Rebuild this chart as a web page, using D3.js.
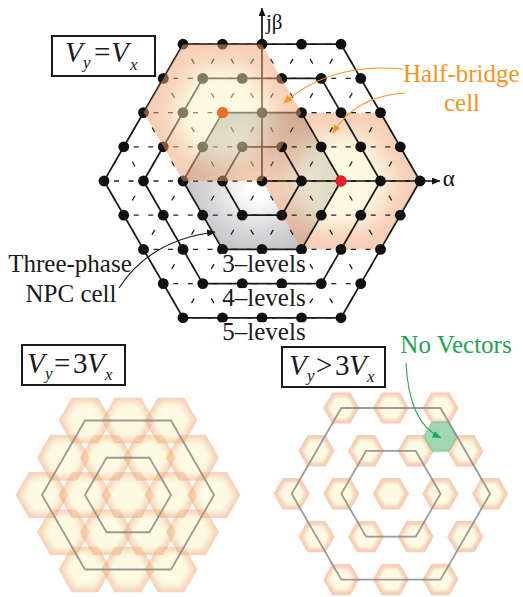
<!DOCTYPE html>
<html>
<head>
<meta charset="utf-8">
<script src="https://cdn.jsdelivr.net/npm/d3@7/dist/d3.min.js"></script>
<style>
  html, body { margin: 0; padding: 0; background: #fff; }
  svg { display: block; }
  text { font-family: "Liberation Serif", "Times New Roman", serif; }
</style>
</head>
<body>
<svg id="fig" width="523" height="597"></svg>
<script>
// ---- data -------------------------------------------------------------
// hexagonal rings of the space-vector diagram (lattice units)
const levelRings = [1, 2, 3, 4];
const levelLabels = ["3–levels", "4–levels", "5–levels"];
const levelLabelRings = [2, 3, 4];
const outerRing = 4;
// cells, axial lattice coordinates [i, j]
const npcCell = [0, 0];
const halfBridgeCells = [[-2, 2], [2, 0]];
const cellRing = 2;
const markedPoints = [[-2, 2], [2, 0]];
const markedColors = ["#f26b2a", "#e8202a"];
// lower diagrams
const subRings = [1, 2];
const subCellRing = 2;
const noVectorCells = [[1 / 3, 4 / 3]];
// texts
const halfBridgeText = ["Half-bridge", "cell"];
const npcText = ["Three-phase", "NPC cell"];
const noVectorText = "No Vectors";
const axisLabels = ["jβ", "α"];

// ---- helpers ------------------------------------------------------------
const svg = d3.select("#fig");
const defs = svg.append("defs");
const EDGE = "#ee9e6e", CORE = "#fcf5c6";
const dirs = [[1, 0], [0, 1], [-1, 1], [-1, 0], [0, -1], [1, -1]];
const hexDist = (i, j) => Math.max(Math.abs(i), Math.abs(j), Math.abs(i + j));

function latticePoints(n) {
  const pts = [];
  for (let j = -n; j <= n; j++)
    for (let i = -n; i <= n; i++)
      if (hexDist(i, j) <= n) pts.push([i, j]);
  return pts;
}
const px = (sx, sy) => ([i, j]) => [sx(i + j / 2), sy(j)];
function hexPts(sx, sy, ci, cj, r) {
  return dirs.map(([di, dj]) => px(sx, sy)([ci + di * r, cj + dj * r]));
}
const ptsAttr = pts => pts.map(p => p.join(",")).join(" ");

function blurFilter(id, sd) {
  defs.append("filter").attr("id", id)
    .attr("x", "-60%").attr("y", "-60%").attr("width", "220%").attr("height", "220%")
    .append("feGaussianBlur").attr("stdDeviation", sd);
}
blurFilter("blurTop", 11);
blurFilter("blurLeft", 3);
blurFilter("blurRight", 1.8);

let clipN = 0;
function softCell(parent, sx, sy, c, r, inner, blurId, edge, core, opacity) {
  const id = "clip" + (clipN++);
  const outer = hexPts(sx, sy, c[0], c[1], r);
  defs.append("clipPath").attr("id", id)
    .append("polygon").attr("points", ptsAttr(outer));
  const g = parent.append("g").attr("opacity", opacity).attr("clip-path", `url(#${id})`);
  g.append("polygon").attr("points", ptsAttr(outer)).attr("fill", edge);
  g.append("polygon").attr("points", ptsAttr(hexPts(sx, sy, c[0], c[1], r * inner)))
    .attr("fill", core).attr("filter", `url(#${blurId})`);
  return g;
}

function marker(id, color) {
  defs.append("marker").attr("id", id)
    .attr("viewBox", "0 0 10 8").attr("refX", 9).attr("refY", 4)
    .attr("markerWidth", 9).attr("markerHeight", 7).attr("markerUnits", "userSpaceOnUse")
    .attr("orient", "auto")
    .append("path").attr("d", "M0,0 L10,4 L0,8 Z").attr("fill", color);
}
marker("arOrange", "#f7941d");
marker("arBlack", "#1a1a1a");
marker("arGreen", "#1aa653");
marker("arAxis", "#111");

// ---- upper diagram -----------------------------------------------------------
const x = d3.scaleLinear().domain([-4, 4]).range([104, 420]);
const y = d3.scaleLinear().domain([-4, 4]).range([317.8, 44.2]);
const P = px(x, y);
const upper = svg.append("g");

// three-phase NPC cell (grey)
const npcGrad = defs.append("radialGradient").attr("id", "npcGrad")
  .attr("cx", 0.47).attr("cy", 0.57).attr("r", 0.58);
[[0, "#ffffff"], [0.14, "#fcfcfc"], [0.5, "#d8d8da"], [1, "#b8b8bc"]].forEach(([o, c]) =>
  npcGrad.append("stop").attr("offset", o).attr("stop-color", c));
upper.append("polygon")
  .attr("points", ptsAttr(hexPts(x, y, npcCell[0], npcCell[1], cellRing)))
  .attr("fill", "url(#npcGrad)");

// half-bridge cell lying under the lattice
softCell(upper, x, y, halfBridgeCells[1], cellRing, 0.68, "blurTop", EDGE, CORE, 0.5);

// dashed lattice edges
const lattice = latticePoints(outerRing);
const edges = [];
lattice.forEach(([i, j]) => {
  [[1, 0], [0, 1], [-1, 1]].forEach(([di, dj], k) => {
    if (hexDist(i + di, j + dj) <= outerRing) edges.push({ a: [i, j], b: [i + di, j + dj], h: k === 0 });
  });
});
upper.append("g").selectAll("line").data(edges).join("line")
  .attr("x1", d => P(d.a)[0]).attr("y1", d => P(d.a)[1])
  .attr("x2", d => P(d.b)[0]).attr("y2", d => P(d.b)[1])
  .attr("stroke", "#222").attr("stroke-width", 1.3)
  .attr("stroke-dasharray", d => d.h ? "0,10,5,9.5,5,10" : "0,17,5.5,17");

// solid level hexagons
upper.append("g").selectAll("polygon").data(levelRings).join("polygon")
  .attr("points", r => ptsAttr(hexPts(x, y, 0, 0, r)))
  .attr("fill", "none").attr("stroke", "#1a1a1a").attr("stroke-width", 1.7)
  .attr("stroke-linejoin", "round");

// axes
upper.append("line")
  .attr("x1", x(0)).attr("y1", y(0)).attr("x2", x(0)).attr("y2", y(5.05))
  .attr("stroke", "#111").attr("stroke-width", 1.7).attr("marker-end", "url(#arAxis)");
upper.append("line")
  .attr("x1", x(0)).attr("y1", y(0)).attr("x2", x(4.5)).attr("y2", y(0))
  .attr("stroke", "#111").attr("stroke-width", 1.7).attr("marker-end", "url(#arAxis)");
upper.append("text").attr("x", x(0) + 4).attr("y", 29).attr("font-size", 21).attr("fill", "#111")
  .text(axisLabels[0]);
upper.append("text").attr("x", x(4.5) + 3).attr("y", y(0) + 5).attr("font-size", 23).attr("fill", "#111")
  .text(axisLabels[1]);

// vectors
upper.append("g").selectAll("circle").data(lattice).join("circle")
  .attr("cx", d => P(d)[0]).attr("cy", d => P(d)[1]).attr("r", 5.4).attr("fill", "#111");
upper.append("circle").attr("cx", P(markedPoints[1])[0]).attr("cy", P(markedPoints[1])[1])
  .attr("r", 5.6).attr("fill", markedColors[1]);

// half-bridge cell lying over the lattice
softCell(upper, x, y, halfBridgeCells[0], cellRing, 0.68, "blurTop", EDGE, CORE, 0.5);
upper.append("circle").attr("cx", P(markedPoints[0])[0]).attr("cy", P(markedPoints[0])[1])
  .attr("r", 5.6).attr("fill", markedColors[0]);

// level labels on a white ground
levelLabels.forEach((t, k) => {
  const tx = upper.append("text").attr("x", x(0) + 2).attr("y", y(-levelLabelRings[k]) + 22.5)
    .attr("text-anchor", "middle").attr("font-size", 25).attr("fill", "#1a1a1a").text(t);
  const b = tx.node().getBBox();
  upper.insert("rect", () => tx.node())
    .attr("x", b.x - 2).attr("y", b.y + 4).attr("width", b.width + 4).attr("height", b.height - 6)
    .attr("fill", "#fff");
});

// annotations
const orange = "#f7941d";
upper.append("text").attr("x", 403).attr("y", 82).attr("font-size", 25).attr("fill", orange)
  .text(halfBridgeText[0]);
upper.append("text").attr("x", 462).attr("y", 111).attr("text-anchor", "middle")
  .attr("font-size", 25).attr("fill", orange).text(halfBridgeText[1]);
upper.append("path").attr("d", "M403,69 Q330,62 284,103")
  .attr("fill", "none").attr("stroke", orange).attr("stroke-width", 1.1)
  .attr("marker-end", "url(#arOrange)");
upper.append("path").attr("d", "M405,93 Q355,96 333,133")
  .attr("fill", "none").attr("stroke", orange).attr("stroke-width", 1.1)
  .attr("marker-end", "url(#arOrange)");

upper.append("text").attr("x", 70).attr("y", 272).attr("text-anchor", "middle")
  .attr("font-size", 25).attr("fill", "#1a1a1a").text(npcText[0]);
upper.append("text").attr("x", 71).attr("y", 302).attr("text-anchor", "middle")
  .attr("font-size", 25).attr("fill", "#1a1a1a").text(npcText[1]);
upper.append("path").attr("d", "M119,288 Q150,240 215,232")
  .attr("fill", "none").attr("stroke", "#1a1a1a").attr("stroke-width", 1.1)
  .attr("marker-end", "url(#arBlack)");

// ---- condition boxes -------------------------------------------------------
function mathBox(bx, by, bw, bh, parts) {
  svg.append("rect").attr("x", bx).attr("y", by).attr("width", bw).attr("height", bh)
    .attr("fill", "#fff").attr("stroke", "#1a1a1a").attr("stroke-width", 2);
  parts.forEach(p => {
    svg.append("text").attr("x", p[1]).attr("y", p[2]).attr("font-size", p[3])
      .attr("font-style", p[4] ? "italic" : "normal").attr("fill", "#1a1a1a").text(p[0]);
  });
}
mathBox(52, 36, 103, 40, [
  ["V", 65, 62, 29, 1], ["y", 83, 68, 17, 1], ["=", 94, 62, 29, 0],
  ["V", 111, 62, 29, 1], ["x", 130, 70, 17, 1]]);
mathBox(22, 345, 103, 40, [
  ["V", 27, 373, 29, 1], ["y", 45, 379, 17, 1], ["=", 54, 373, 29, 0],
  ["3", 73, 373, 29, 0], ["V", 87, 373, 29, 1], ["x", 105, 380, 17, 1]]);
mathBox(282, 347, 103, 40, [
  ["V", 289, 375, 29, 1], ["y", 307, 381, 17, 1], [">", 316, 375, 29, 0],
  ["3", 335, 375, 29, 0], ["V", 349, 375, 29, 1], ["x", 367, 382, 17, 1]]);

// ---- lower left: Vy = 3 Vx -------------------------------------------------------
const xl = d3.scaleLinear().domain([-2, 2]).range([42, 214]);
const yl = d3.scaleLinear().domain([-2, 2]).range([569.5, 420.5]);
const leftG = svg.append("g");
latticePoints(subCellRing).forEach(c =>
  softCell(leftG, xl, yl, c, 0.62, 0.8, "blurLeft", EDGE, CORE, 0.5));
leftG.append("g").selectAll("polygon").data(subRings).join("polygon")
  .attr("points", r => ptsAttr(hexPts(xl, yl, 0, 0, r)))
  .attr("fill", "none").attr("stroke", "#8a8a8a").attr("stroke-opacity", 0.85)
  .attr("stroke-width", 1.8);

// ---- lower right: Vy > 3 Vx -------------------------------------------------------
const xr = d3.scaleLinear().domain([-2, 2]).range([291.7, 490.1]);
const yr = d3.scaleLinear().domain([-2, 2]).range([579.6, 408]);
const rightG = svg.append("g");
latticePoints(subCellRing).forEach(c =>
  softCell(rightG, xr, yr, c, 0.37, 0.72, "blurRight", EDGE, CORE, 0.5));
rightG.append("g").selectAll("polygon").data(noVectorCells).join("polygon")
  .attr("points", c => ptsAttr(hexPts(xr, yr, c[0], c[1], 0.34)))
  .attr("fill", "#8fd0a6").attr("fill-opacity", 0.85)
  .attr("stroke", "#78c391").attr("stroke-width", 0.8);
rightG.append("g").selectAll("polygon").data(subRings).join("polygon")
  .attr("points", r => ptsAttr(hexPts(xr, yr, 0, 0, r)))
  .attr("fill", "none").attr("stroke", "#8a8a8a").attr("stroke-opacity", 0.85)
  .attr("stroke-width", 1.8);

const green = "#1aa653";
svg.append("text").attr("x", 456).attr("y", 353).attr("text-anchor", "middle")
  .attr("font-size", 25).attr("fill", green).text(noVectorText);
const nv = px(xr, yr)(noVectorCells[0]);
svg.append("path").attr("d", `M406,363 C408,405 420,428 ${nv[0]},${nv[1] + 1}`)
  .attr("fill", "none").attr("stroke", green).attr("stroke-width", 1.1)
  .attr("marker-end", "url(#arGreen)");
</script>
</body>
</html>
